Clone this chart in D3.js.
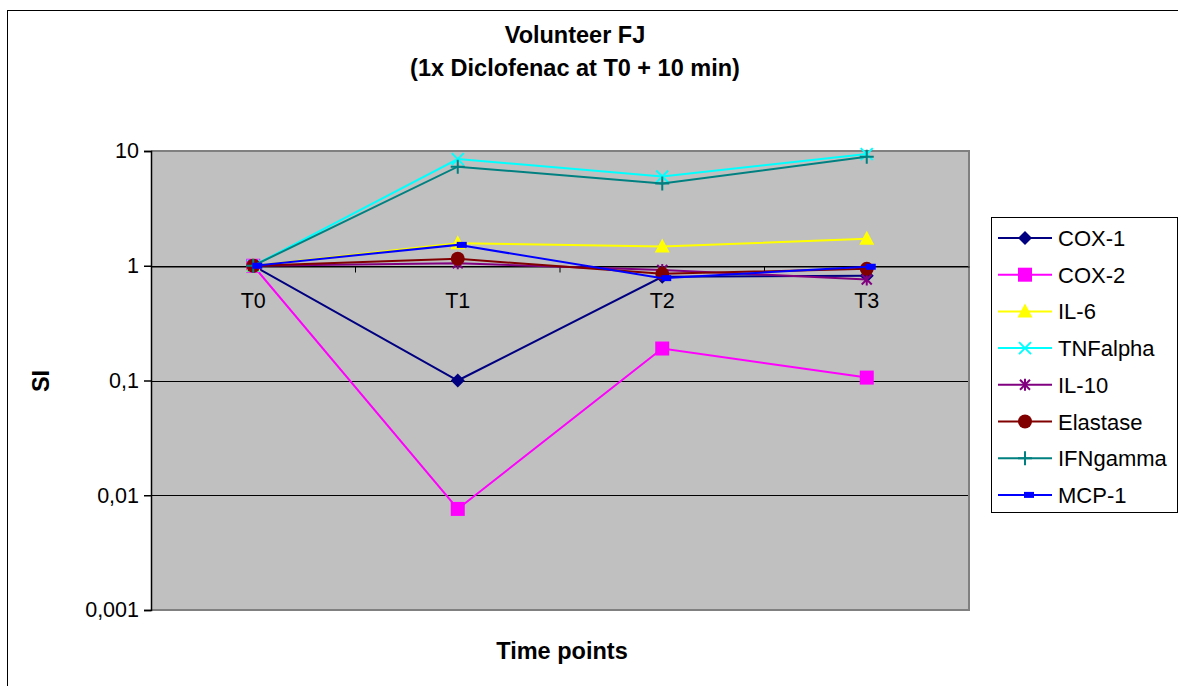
<!DOCTYPE html>
<html><head><meta charset="utf-8">
<script src="https://cdn.jsdelivr.net/npm/d3@7"></script>
<style>body{margin:0;background:#fff}svg{display:block}text{font-family:"Liberation Sans",Arial,sans-serif}</style>
</head><body><svg id="c" width="1178" height="686"></svg>
<script>
const categories = ["T0","T1","T2","T3"];
const yTicks = [0.001, 0.01, 0.1, 1, 10];
const yTickLabels = ["0,001","0,01","0,1","1","10"];
const seriesNames = ["COX-1","COX-2","IL-6","TNFalpha","IL-10","Elastase","IFNgamma","MCP-1"];
const cox1 = [1, 0.1, 0.8, 0.82];
const cox2 = [1, 0.0076, 0.19, 0.106];
const il6 = [1, 1.57, 1.47, 1.72];
const tnfalpha = [1, 8.5, 6.0, 9.4];
const il10 = [1, 1.05, 0.92, 0.76];
const elastase = [1, 1.15, 0.85, 0.94];
const ifngamma = [1, 7.3, 5.2, 8.9];
const mcp1 = [1, 1.52, 0.78, 0.98];
const seriesValues = [cox1, cox2, il6, tnfalpha, il10, elastase, ifngamma, mcp1];
const colors = ["#000080","#FF00FF","#FFFF00","#00FFFF","#800080","#800000","#008080","#0000FF"];
const shapes = ["diamond","square","triangle","x","star","circle","plus","dash"];

const svg = d3.select("#c");
const L=151, R=969, T=151, B=610;
// outer border
svg.append("rect").attr("x",7.5).attr("y",10.5).attr("width",1180).attr("height",690).attr("fill","none").attr("stroke","#000").attr("stroke-width",1);

const x = d3.scaleBand().domain(categories).range([L,R]);
const cx = d => x(d) + x.bandwidth()/2;
const y = d3.scaleLog().domain([0.001,10]).range([B,T]);

svg.append("rect").attr("x",L).attr("y",T).attr("width",R-L).attr("height",B-T).attr("fill","#C0C0C0");
// gridlines
svg.append("g").selectAll("line").data(yTicks).join("line")
  .attr("x1",L).attr("x2",R).attr("y1",d=>Math.round(y(d))+0.5).attr("y2",d=>Math.round(y(d))+0.5)
  .attr("stroke","#000").attr("stroke-width",1);
// plot border
svg.append("path").attr("d",`M${L},${T}H${R}V${B}H${L}`).attr("fill","none").attr("stroke","#808080").attr("stroke-width",2);

// y axis
const yAxis = d3.axisLeft(y).tickValues(yTicks).tickFormat(d=>yTickLabels[yTicks.indexOf(d)]).tickSize(7).tickPadding(5);
const ga = svg.append("g").attr("transform",`translate(${L},0)`).call(yAxis);
ga.selectAll("path,line").attr("stroke","#000").attr("stroke-width",1.5);
ga.selectAll("text").attr("font-size",21.5).attr("fill","#000").style("font-family","'Liberation Sans',Arial,sans-serif");

// x axis at y=1
const y1 = Math.round(y(1))+0.5;
const xAxis = d3.axisBottom(x).tickSize(0).tickPadding(26);
const gx = svg.append("g").attr("transform",`translate(0,${y1})`).call(xAxis);
gx.select("path").attr("stroke","#000");
gx.selectAll("text").attr("font-size",21.5).attr("fill","#000").style("font-family","'Liberation Sans',Arial,sans-serif");
svg.append("g").selectAll("line").data(categories.slice(1)).join("line")
  .attr("x1",d=>x(d)).attr("x2",d=>x(d)).attr("y1",y1).attr("y2",y1+6).attr("stroke","#000");

function marker(g, shape, color, px, py){
  if(shape==="diamond") g.append("path").attr("d",`M${px},${py-7}L${px+7},${py}L${px},${py+7}L${px-7},${py}Z`).attr("fill",color);
  else if(shape==="square") g.append("rect").attr("x",px-7).attr("y",py-7).attr("width",14).attr("height",14).attr("fill",color);
  else if(shape==="triangle") g.append("path").attr("d",`M${px},${py-8}L${px+7.5},${py+6}L${px-7.5},${py+6}Z`).attr("fill",color);
  else if(shape==="circle") g.append("circle").attr("cx",px).attr("cy",py).attr("r",7).attr("fill",color);
  else if(shape==="x") g.append("path").attr("d",`M${px-6},${py-6}L${px+6},${py+6}M${px+6},${py-6}L${px-6},${py+6}`).attr("stroke",color).attr("stroke-width",2);
  else if(shape==="plus") g.append("path").attr("d",`M${px-7},${py}L${px+7},${py}M${px},${py-7}L${px},${py+7}`).attr("stroke",color).attr("stroke-width",2);
  else if(shape==="star") g.append("path").attr("d",`M${px-5},${py-5}L${px+5},${py+5}M${px+5},${py-5}L${px-5},${py+5}M${px},${py-6}L${px},${py+6}`).attr("stroke",color).attr("stroke-width",2);
  else if(shape==="dash") g.append("rect").attr("x",px-1).attr("y",py-3).attr("width",10).attr("height",6).attr("fill",color);
}

const line = d3.line().x((d,i)=>cx(categories[i])).y(d=>y(d));
seriesValues.forEach((vals,si)=>{
  const g = svg.append("g");
  g.append("path").attr("d",line(vals)).attr("fill","none").attr("stroke",colors[si]).attr("stroke-width",2);
  vals.forEach((v,i)=>marker(g, shapes[si], colors[si], cx(categories[i]), y(v)));
});

// titles
svg.append("text").attr("x",575).attr("y",43).attr("text-anchor","middle").attr("font-size",23.5).attr("font-weight","bold").text("Volunteer FJ");
svg.append("text").attr("x",575).attr("y",76).attr("text-anchor","middle").attr("font-size",23.5).attr("font-weight","bold").text("(1x Diclofenac at T0 + 10 min)");
svg.append("text").attr("x",562).attr("y",659).attr("text-anchor","middle").attr("font-size",23.5).attr("font-weight","bold").text("Time points");
svg.append("text").attr("transform","translate(49,381) rotate(-90)").attr("text-anchor","middle").attr("font-size",23.5).attr("font-weight","bold").text("SI");

// legend
const lg = svg.append("g");
lg.append("rect").attr("x",991.5).attr("y",217.5).attr("width",186).attr("height",295).attr("fill","#fff").attr("stroke","#000");
seriesNames.forEach((n,i)=>{
  const ly = 238 + i*36.7;
  const gi = lg.append("g");
  gi.append("line").attr("x1",998).attr("x2",1052).attr("y1",ly).attr("y2",ly).attr("stroke",colors[i]).attr("stroke-width",2);
  marker(gi, shapes[i], colors[i], 1025, ly);
  gi.append("text").attr("x",1058).attr("y",ly+8).attr("font-size",22).text(n);
});
</script></body></html>
